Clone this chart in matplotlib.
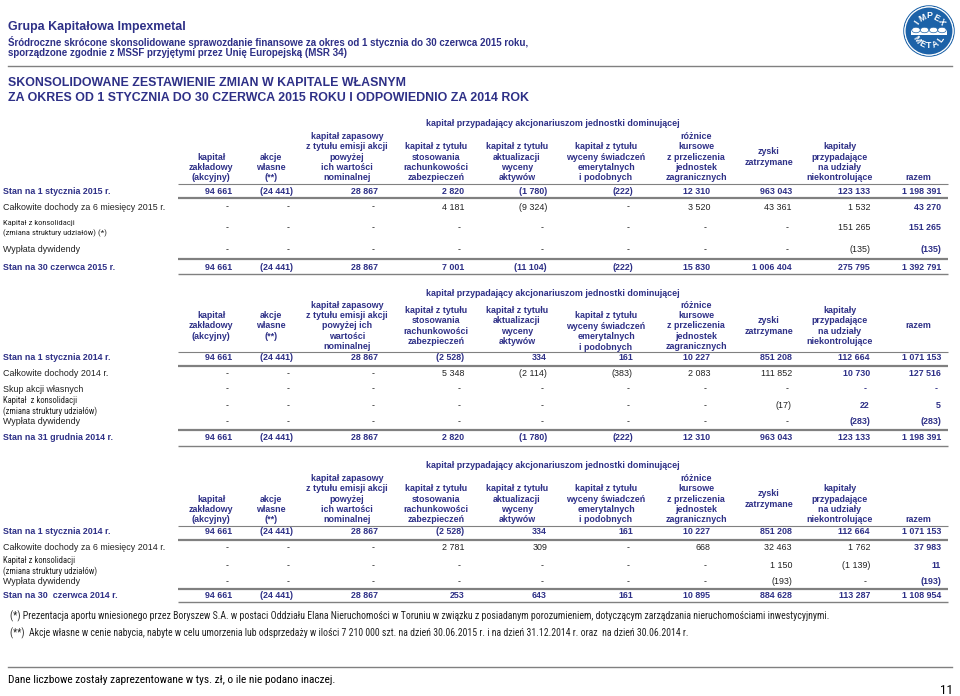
import matplotlib
matplotlib.use('Agg')
import matplotlib.pyplot as plt
from matplotlib import font_manager
from matplotlib.patches import Circle, Rectangle, Ellipse
import numpy as np

plt.rcParams['font.family'] = ['Liberation Sans', 'DejaVu Sans']

NAVY = '#2e3087'
DARK = '#222222'
GREY = '#808080'
LOGO = '#1c62a8'

# waska czcionka jesli jest, inaczej zwykla dopasowana do szerokosci
names = {f.name for f in font_manager.fontManager.ttflist}
NARROW = 'Liberation Sans'
for cand in ['Liberation Sans Narrow', 'Roboto Condensed', 'Open Sans Condensed', 'DejaVu Sans Condensed']:
    if cand in names:
        NARROW = cand
        break

# --- teksty naglowka
company = 'Grupa Kapitałowa Impexmetal'
subtitle = ['Śródroczne skrócone skonsolidowane sprawozdanie finansowe za okres od 1 stycznia do 30 czerwca 2015 roku,',
            'sporządzone zgodnie z MSSF przyjętymi przez Unię Europejską (MSR 34)']
title = ['SKONSOLIDOWANE ZESTAWIENIE ZMIAN W KAPITALE WŁASNYM',
         'ZA OKRES OD 1 STYCZNIA DO 30 CZERWCA 2015 ROKU I ODPOWIEDNIO ZA 2014 ROK']
group_title = 'kapitał przypadający akcjonariuszom jednostki dominującej'

# --- naglowki kolumn
cols_a = [['kapitał', 'zakładowy', '(akcyjny)'],
          ['akcje', 'własne', '(**)'],
          ['kapitał zapasowy', 'z tytułu emisji akcji', 'powyżej', 'ich wartości', 'nominalnej'],
          ['kapitał z tytułu', 'stosowania', 'rachunkowości', 'zabezpieczeń'],
          ['kapitał z tytułu', 'aktualizacji', 'wyceny', 'aktywów'],
          ['kapitał z tytułu', 'wyceny świadczeń', 'emerytalnych', 'i podobnych'],
          ['różnice', 'kursowe', 'z przeliczenia', 'jednostek', 'zagranicznych'],
          ['zyski', 'zatrzymane'],
          ['kapitały', 'przypadające', 'na udziały', 'niekontrolujące'],
          ['razem']]
cols_b = [c for c in cols_a]
cols_b[2] = ['kapitał zapasowy', 'z tytułu emisji akcji', 'powyżej ich', 'wartości', 'nominalnej']

# --- tabela 1: 6 miesiecy 2015
t1_labels = ['Stan na 1 stycznia 2015 r.',
             'Całkowite dochody za 6 miesięcy 2015 r.',
             'Kapitał z konsolidacji\n(zmiana struktury udziałów) (*)',
             'Wypłata dywidendy',
             'Stan na 30 czerwca 2015 r.']
t1_values = [[94661, -24441, 28867, 2820, -1780, -222, 12310, 963043, 123133, 1198391],
             [None, None, None, 4181, -9324, None, 3520, 43361, 1532, 43270],
             [None, None, None, None, None, None, None, None, 151265, 151265],
             [None, None, None, None, None, None, None, None, -135, -135],
             [94661, -24441, 28867, 7001, -11104, -222, 15830, 1006404, 275795, 1392791]]

# --- tabela 2: rok 2014
t2_labels = ['Stan na 1 stycznia 2014 r.',
             'Całkowite dochody 2014 r.',
             'Skup akcji własnych',
             'Kapitał  z konsolidacji\n(zmiana struktury udziałów)',
             'Wypłata dywidendy',
             'Stan na 31 grudnia 2014 r.']
t2_values = [[94661, -24441, 28867, -2528, 334, 161, 10227, 851208, 112664, 1071153],
             [None, None, None, 5348, -2114, -383, 2083, 111852, 10730, 127516],
             [None, None, None, None, None, None, None, None, None, None],
             [None, None, None, None, None, None, None, -17, 22, 5],
             [None, None, None, None, None, None, None, None, -283, -283],
             [94661, -24441, 28867, 2820, -1780, -222, 12310, 963043, 123133, 1198391]]

# --- tabela 3: 6 miesiecy 2014
t3_labels = ['Stan na 1 stycznia 2014 r.',
             'Całkowite dochody za 6 miesięcy 2014 r.',
             'Kapitał z konsolidacji\n(zmiana struktury udziałów)',
             'Wypłata dywidendy',
             'Stan na 30  czerwca 2014 r.']
t3_values = [[94661, -24441, 28867, -2528, 334, 161, 10227, 851208, 112664, 1071153],
             [None, None, None, 2781, 309, None, 668, 32463, 1762, 37983],
             [None, None, None, None, None, None, None, 1150, -1139, 11],
             [None, None, None, None, None, None, None, -193, None, -193],
             [94661, -24441, 28867, 253, 643, 161, 10895, 884628, 113287, 1108954]]

notes = ['(*) Prezentacja aportu wniesionego przez Boryszew S.A. w postaci Oddziału Elana Nieruchomości w Toruniu w związku z posiadanym porozumieniem, dotyczącym zarządzania nieruchomościami inwestycyjnymi.',
         '(**)  Akcje własne w cenie nabycia, nabyte w celu umorzenia lub odsprzedaży w ilości 7 210 000 szt. na dzień 30.06.2015 r. i na dzień 31.12.2014 r. oraz  na dzień 30.06.2014 r.']
footer = 'Dane liczbowe zostały zaprezentowane w tys. zł, o ile nie podano inaczej.'
page_no = '11'

# --- uklad (piksele)
col_center = [211, 271, 347, 436, 517, 606, 696, 769, 840, 918]
col_right = [232, 293, 378, 464, 547, 633, 710, 792, 870, 941]
LH = 10.4
FS = 6.4

fig = plt.figure(figsize=(9.6, 6.96), dpi=100)
ax = fig.add_axes([0, 0, 1, 1])
ax.set_xlim(0, 960)
ax.set_ylim(696, 0)
ax.axis('off')
renderer = fig.canvas.get_renderer()


def fit_text(x, y, s, width, **kw):
    # tekst o zadanej szerokosci w pikselach
    t = ax.text(x, y, s, fontsize=6, **kw)
    w = t.get_window_extent(renderer).width
    t.set_fontsize(6 * width / w)
    return t


def fmt(v):
    if v is None:
        return '-'
    s = f'{abs(v):,}'.replace(',', ' ')
    return f'({s})' if v < 0 else s


def hline(y, lw=0.8, x0=178, x1=948):
    ax.plot([x0, x1], [y, y], color=GREY, lw=lw, solid_capstyle='butt')


def draw_table(y_group, headers, align, bottom, mid, labels, values, row_y,
               styles, bold_cols, lines, two_line_w):
    ax.text(553, y_group, group_title, ha='center', va='center',
            fontsize=FS, fontweight='bold', color=NAVY)
    for j, (hl, al) in enumerate(zip(headers, align)):
        n = len(hl)
        for k, line in enumerate(hl):
            if al == 'b':
                y = bottom - LH * (n - 1 - k)
            else:
                y = mid + LH * (k - (n - 1) / 2)
            ax.text(col_center[j], y, line, ha='center', va='center',
                    fontsize=FS, fontweight='bold', color=NAVY)
    for lab, vals, y, st, bc in zip(labels, values, row_y, styles, bold_cols):
        if '\n' in lab:
            l1, l2 = lab.split('\n')
            t2 = fit_text(3, y + 5.5, l2, two_line_w, ha='left', va='center',
                          family=NARROW, color=DARK)
            ax.text(3, y - 5.5, l1, ha='left', va='center', fontsize=t2.get_fontsize(),
                    family=NARROW, color=DARK)
        else:
            stan = st == 'stan'
            ax.text(3, y, lab, ha='left', va='center', fontsize=FS,
                    fontweight='bold' if stan else 'normal',
                    color=NAVY if stan else DARK)
        for j, v in enumerate(vals):
            b = st == 'stan' or j in bc
            x = col_right[j] - (3 if v is None else 0)
            ax.text(x, y, fmt(v), ha='right', va='center', fontsize=FS,
                    fontweight='bold' if b else 'normal',
                    color=NAVY if b else DARK)
    for y, lw in lines:
        hline(y, lw)


# --- naglowek strony
ax.text(8, 27, company, ha='left', va='center', fontsize=8.9, fontweight='bold', color=NAVY)
ax.text(8, 42, subtitle[0], ha='left', va='center', fontsize=7.0, fontweight='bold', color=NAVY)
ax.text(8, 53, subtitle[1], ha='left', va='center', fontsize=7.0, fontweight='bold', color=NAVY)
ax.plot([8, 952], [66, 66], color=GREY, lw=1.0)
ax.text(8, 83, title[0], ha='left', va='center', fontsize=8.9, fontweight='bold', color=NAVY)
ax.text(8, 98, title[1], ha='left', va='center', fontsize=8.9, fontweight='bold', color=NAVY)

# --- logo
cx, cy, r = 929, 31, 24
ax.add_patch(Circle((cx, cy), r + 1.2, facecolor='none', edgecolor=LOGO, lw=0.8))
ax.add_patch(Circle((cx, cy), r, facecolor=LOGO, edgecolor='white', lw=0.8))
for ch, th in zip('IMPEX', np.linspace(145, 35, 5)):
    t = np.radians(th)
    ax.text(cx + 15 * np.cos(t), cy - 15 * np.sin(t), ch, rotation=th - 90,
            ha='center', va='center', fontsize=6.3, fontweight='bold', color='white')
for ch, th in zip('METAL', np.linspace(215, 325, 5)):
    t = np.radians(th)
    ax.text(cx + 15 * np.cos(t), cy - 15 * np.sin(t), ch, rotation=th - 270,
            ha='center', va='center', fontsize=6.3, fontweight='bold', color='white')
ax.add_patch(Rectangle((cx - 18, cy - 1), 36, 5, facecolor='white', edgecolor='none'))
for dx in [-13, -4.5, 4.5, 13]:
    ax.add_patch(Ellipse((cx + dx, cy - 1), 8.5, 5.5, facecolor='white', edgecolor=LOGO, lw=0.5))
ax.plot([cx - 18, cx + 18], [cy + 4, cy + 4], color=LOGO, lw=0.5)

# --- tabele
draw_table(124, cols_a, ['b'] * 7 + ['c', 'b', 'b'], 178, 157,
           t1_labels, t1_values, [191, 207, 228, 250, 267],
           ['stan', 'reg', 'reg', 'reg', 'stan'], [[], [9], [9], [9], []],
           [(184, 0.8), (198, 1.6), (259, 1.6), (274, 1.0)], 104)

draw_table(293, cols_b, ['c'] * 5 + ['b'] + ['c'] * 4, 347, 326,
           t2_labels, t2_values, [358, 374, 389, 406, 422, 438],
           ['stan', 'reg', 'reg', 'reg', 'reg', 'stan'],
           [[], [8, 9], [8, 9], [8, 9], [8, 9], []],
           [(352, 0.8), (366, 1.6), (430, 1.6), (446, 1.0)], 95)

draw_table(466, cols_a, ['b'] * 7 + ['c', 'b', 'b'], 520, 499,
           t3_labels, t3_values, [532, 548, 566, 582, 595],
           ['stan', 'reg', 'reg', 'reg', 'stan'], [[], [9], [9], [9], []],
           [(526, 0.8), (540, 1.6), (589, 1.6), (602, 1.0)], 95)

# --- przypisy i stopka
fit_text(10, 616, notes[0], 820, ha='left', va='center', family=NARROW, color=DARK)
fit_text(10, 633, notes[1], 680, ha='left', va='center', family=NARROW, color=DARK)
ax.plot([8, 952], [667, 667], color=GREY, lw=1.0)
fit_text(8, 680, footer, 327, ha='left', va='center', family=NARROW, color='black')
ax.text(953, 690, page_no, ha='right', va='center', fontsize=9.5, family=NARROW, color='black')

fig.savefig('out.png', dpi=100, facecolor='white')
